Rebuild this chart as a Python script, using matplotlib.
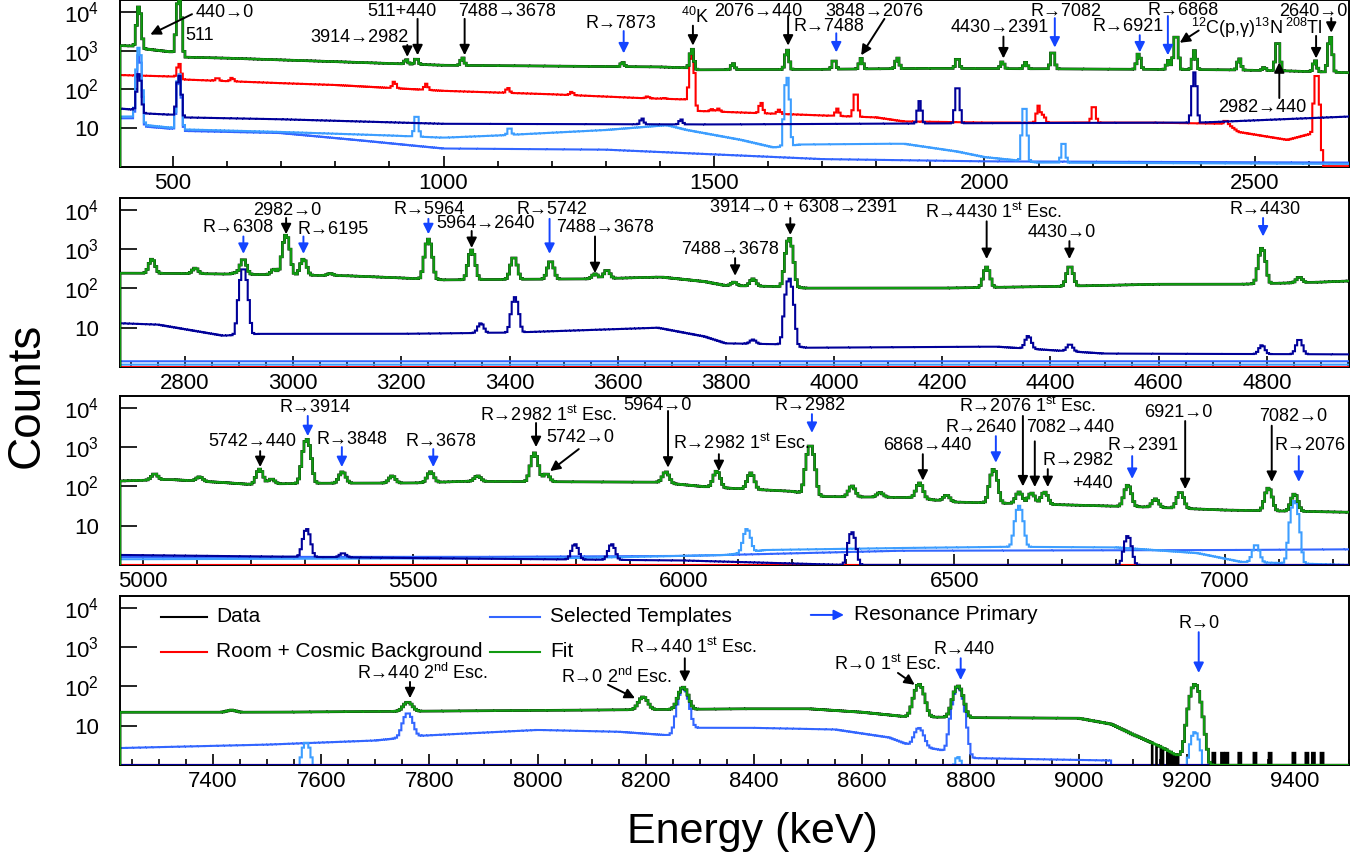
import numpy as np
import matplotlib
matplotlib.use("Agg")
import matplotlib.pyplot as plt
from matplotlib.ticker import FixedLocator, FixedFormatter, LogLocator, NullFormatter, MultipleLocator

plt.rcParams['font.family'] = ['Liberation Sans', 'DejaVu Sans']
plt.rcParams['mathtext.fontset'] = 'custom'
plt.rcParams['mathtext.rm'] = 'Liberation Sans'
plt.rcParams['mathtext.it'] = 'Liberation Sans:italic'
plt.rcParams['mathtext.bf'] = 'Liberation Sans:bold'

# ---------------- spectra: continuum knots (keV, counts) and peaks (keV, top counts) ----------------
# panel 1: 400 - 2670 keV
P1_FIT_CONT = [(402, 1350), (434, 1300), (450, 1100), (505, 900), (520, 680), (600, 640), (800, 520),
               (1000, 420), (1200, 400), (1400, 380), (1452, 360), (1470, 320), (1700, 330), (1900, 350),
               (2100, 340), (2300, 330), (2450, 320), (2560, 300), (2674, 270)]
P1_FIT_PEAKS = [(437, 14000), (511, 26000), (931, 590), (950, 640), (1035, 660), (1331, 500), (1459, 1130),
                (1535, 470), (1635, 1070), (1722, 590), (1772, 630), (1839, 660), (1950, 660), (2033, 520),
                (2076, 500), (2126, 1000), (2285, 840), (2340, 560), (2354, 2700), (2388, 1000), (2471, 630),
                (2517, 370), (2542, 1820), (2611, 560), (2639, 2300)]
P1_BKG_CONT = [(402, 235), (500, 215), (520, 180), (700, 145), (800, 130), (1000, 92), (1200, 75), (1363, 60),
               (1450, 55), (1466, 28), (1600, 24), (1800, 19), (1850, 15), (2000, 14), (2300, 14), (2450, 13),
               (2470, 8), (2560, 5), (2600, 7), (2618, 7), (2626, 1.05), (2674, 1.05)]
P1_BKG_PEAKS = [(511, 470), (582, 200), (609, 200), (909, 160), (968, 140), (1119, 110), (1237, 87), (1377, 66),
                (1408, 60), (1459, 980), (1496, 31), (1508, 32), (1587, 46), (1620, 30), (1728, 32), (1762, 87),
                (2100, 38), (2109, 22), (2202, 40), (2446, 16), (2614, 275)]
P1_NAVY_CONT = [(402, 32), (430, 30), (450, 24), (505, 22), (520, 19), (700, 17), (1000, 13), (1500, 12.5),
                (2000, 13.5), (2400, 14), (2674, 20)]
P1_NAVY_PEAKS = [(437, 260), (511, 235), (1367, 18), (1439, 17), (1880, 50), (1950, 130), (2388, 275)]
P1_LIGHT_CONT = [(402, 20), (430, 20), (450, 12), (505, 10), (520, 9.3), (700, 8), (900, 6.5), (1000, 5.7),
                 (1100, 6.5), (1300, 9), (1413, 12), (1450, 9), (1550, 5), (1610, 3.2), (1660, 3.8), (1850, 4),
                 (1950, 2.5), (2000, 1.8), (2100, 1.3), (2674, 1.2)]
P1_LIGHT_PEAKS = [(437, 1250), (511, 260), (950, 23), (1122, 10.5), (1635, 210), (2074, 39), (2146, 4.6)]
P1_MED_CONT = [(402, 18), (430, 18), (450, 11), (505, 9.5), (520, 8.5), (700, 7.5), (850, 4.8), (950, 3.5),
               (1000, 3.0), (1300, 2.8), (1700, 1.6), (2000, 1.4), (2674, 1.3)]
P1_MED_PEAKS = [(437, 800), (511, 220)]

# panel 2: 2680 - 4950 keV
P2_FIT_CONT = [(2680, 245), (2800, 240), (2900, 230), (3100, 210), (3200, 185), (3280, 165), (3400, 170),
               (3550, 175), (3680, 195), (3760, 150), (3800, 118), (3900, 112), (3950, 102), (4200, 102),
               (4400, 112), (4600, 128), (4750, 128), (4900, 145), (4952, 155)]
P2_FIT_PEAKS = [(2739, 560), (2819, 330), (2893, 250), (2908, 560), (2965, 310), (2987, 2300), (3019, 560),
                (3069, 240), (3250, 1800), (3330, 950), (3408, 630), (3476, 500), (3558, 235), (3580, 295),
                (3815, 145), (3850, 175), (3917, 1900), (4282, 350), (4436, 370), (4791, 1070), (4860, 195)]
P2_NAVY_CONT = [(2680, 13), (2750, 12), (2870, 6.3), (2940, 7), (3200, 7), (3400, 7.5), (3674, 10), (3760, 6),
                (3800, 4), (3900, 3.8), (3950, 3.1), (4300, 3.3), (4500, 2.2), (4952, 2.1)]
P2_NAVY_PEAKS = [(2908, 330), (3347, 13), (3410, 60), (3850, 5), (3917, 180), (4359, 6.2), (4436, 3.8),
                 (4791, 3.6), (4860, 5.1)]
P2_LIGHT_CONT = [(2680, 1.15), (4952, 1.15)]
P2_MED_CONT = [(2680, 1.4), (4952, 1.4)]

# panel 3: 4960 - 7230 keV
P3_FIT_CONT = [(4958, 137), (5050, 150), (5150, 125), (5200, 112), (5300, 120), (5500, 122), (5600, 135),
               (5700, 132), (5950, 128), (6050, 95), (6200, 75), (6260, 55), (6420, 52), (6500, 40), (6700, 34),
               (6850, 30), (7000, 25), (7230, 22)]
P3_FIT_PEAKS = [(5022, 210), (5105, 175), (5216, 275), (5238, 155), (5303, 1600), (5369, 235), (5461, 185),
                (5532, 235), (5619, 185), (5724, 710), (5746, 210), (5967, 235), (6061, 245), (6124, 220),
                (6234, 1130), (6311, 103), (6363, 70), (6436, 122), (6486, 60), (6573, 275), (6620, 72),
                (6643, 68), (6667, 72), (6821, 108), (6872, 48), (6918, 72), (7081, 91), (7129, 64)]
P3_NAVY_CONT = [(4958, 1.8), (5500, 1.5), (6000, 1.3), (6300, 1.0), (7230, 1.0)]
P3_NAVY_PEAKS = [(5303, 8.3), (5370, 2.0), (5799, 3.4), (5867, 3.4), (6311, 6.9), (6821, 5.5)]
P3_LIGHT_CONT = [(4958, 1.4), (5800, 1.5), (6080, 1.8), (6150, 2.4), (6400, 2.7), (6600, 2.9), (6800, 2.8),
                 (6950, 2.0), (7030, 1.2), (7230, 1.0)]
P3_LIGHT_PEAKS = [(6117, 8.3), (6620, 32), (7058, 3.3), (7129, 43)]
P3_MED_CONT = [(4958, 1.6), (5600, 1.6), (6000, 1.7), (6150, 1.9), (6400, 2.3), (7000, 2.4), (7230, 2.5)]

# panel 4: 7230 - 9500 keV
P4_FIT_CONT = [(7228, 22), (7500, 22), (7700, 23), (7900, 24), (8100, 25), (8400, 27), (8500, 27), (8600, 22),
               (8680, 17), (8800, 16), (9000, 15.5), (9060, 11), (9100, 6), (9150, 3), (9180, 1.8),
               (9238, 1.5), (9242, 1.0), (9500, 1.0)]
P4_FIT_PEAKS = [(7434, 25), (7760, 40), (8195, 54), (8269, 96), (8705, 114), (8777, 103), (9215, 114)]
P4_MED_CONT = [(7228, 2.7), (7500, 3.3), (7700, 4.2), (7790, 5.6), (8000, 7.8), (8150, 7), (8250, 5.6),
               (8290, 8.8), (8400, 8.8), (8550, 8), (8650, 5), (8690, 3.1), (8740, 2.5), (8800, 1.5),
               (9060, 1.3), (9070, 0.001), (9500, 0.001)]
P4_MED_PEAKS = [(7760, 21), (8269, 91), (8705, 8.8), (8777, 98)]
P4_LIGHT_CONT = [(7228, 0.001), (9500, 0.001)]
P4_LIGHT_PEAKS = [(7572, 3.8), (8777, 1.6), (9215, 6.9)]
P4_DATA_GAPS = [9137, 9144, 9155, 9165, 9174, 9183]
P4_DATA_TAIL_E = [9252, 9265, 9276, 9298, 9326, 9354, 9400, 9422, 9433, 9450]
P4_DATA_TAIL_C = [2, 2, 2, 2, 2, 2, 2, 2, 2, 2]

ENERGY_RANGES = [(402, 2674), (2680, 4952), (4958, 7230), (7228, 9500)]
PEAK_SIGMA = [3.0, 5.0, 5.5, 7.5]
X_MAJOR = [500, 200, 500, 200]
X_MINOR = [100, 50, 100, 50]
Y_TICKS = [10, 100, 1000, 10000]
Y_TICK_LABELS = ['10', '$10^{2}$', '$10^{3}$', '$10^{4}$']
BIN_WIDTH = 4.0

C_FIT = '#119a11'
C_BKG = '#ff0000'
C_NAVY = '#000099'
C_LIGHT = '#3d9eff'
C_MED = '#3366ff'
C_RES = '#1444ff'


def build(edges, cont, peaks, sigma):
    centres = 0.5 * (edges[:-1] + edges[1:])
    ke = np.array([p[0] for p in cont], float)
    kl = np.log10([p[1] for p in cont])
    counts = 10 ** np.interp(centres, ke, kl)
    for e, top in peaks:
        base = 10 ** np.interp(e, ke, kl)
        counts += max(top - base, 0) * np.exp(-0.5 * ((centres - e) / sigma) ** 2)
    return counts


# per panel: fit, background, navy, light, medium templates
panels = [
    dict(fit=(P1_FIT_CONT, P1_FIT_PEAKS), bkg=(P1_BKG_CONT, P1_BKG_PEAKS), navy=(P1_NAVY_CONT, P1_NAVY_PEAKS),
         light=(P1_LIGHT_CONT, P1_LIGHT_PEAKS), med=(P1_MED_CONT, P1_MED_PEAKS)),
    dict(fit=(P2_FIT_CONT, P2_FIT_PEAKS), bkg=None, navy=(P2_NAVY_CONT, P2_NAVY_PEAKS),
         light=(P2_LIGHT_CONT, []), med=(P2_MED_CONT, [])),
    dict(fit=(P3_FIT_CONT, P3_FIT_PEAKS), bkg=None, navy=(P3_NAVY_CONT, P3_NAVY_PEAKS),
         light=(P3_LIGHT_CONT, P3_LIGHT_PEAKS), med=(P3_MED_CONT, [])),
    dict(fit=(P4_FIT_CONT, P4_FIT_PEAKS), bkg=None, navy=None,
         light=(P4_LIGHT_CONT, P4_LIGHT_PEAKS), med=(P4_MED_CONT, P4_MED_PEAKS)),
]

# labels: (text, text_x, text_y, tail, tip, arrow colour)
K, B = 'black', C_RES
notes = [
    [('440→0', 596, 9500, (535, 8700), (458, 2600), K),
     ('511', 550, 2400, None, None, K),
     ('511+440', 924, 10000, (952, 6600), (952, 760), K),
     ('3914→2982', 845, 2140, (933, 1400), (933, 690), K),
     ('7488→3678', 1117, 10000, (1039, 6600), (1039, 760), K),
     ('R→7873', 1328, 5100, (1333, 3200), (1333, 850), B),
     ('$^{40}$K', 1465, 7600, (1461, 4400), (1461, 1350), K),
     ('2076→440', 1582, 10000, (1637, 7800), (1637, 1350), K),
     ('R→7488', 1713, 4100, (1726, 2800), (1726, 900), B),
     ('3848→2076', 1796, 10500, (1815, 6600), (1772, 760), K),
     ('4430→2391', 2028, 3900, (2035, 2300), (2035, 630), K),
     ('R→7082', 2150, 10000, (2130, 6900), (2130, 1200), B),
     ('R→6921', 2265, 4200, (2287, 2500), (2287, 900), B),
     ('R→6868', 2368, 11000, (2339, 7800), (2339, 760), B),
     ('$^{12}$C(p,γ)$^{13}$N', 2466, 3900, (2396, 3300), (2361, 1600), K),
     ('$^{208}$Tl', 2590, 3900, (2613, 2400), (2613, 630), K),
     ('2640→0', 2608, 10500, (2641, 6900), (2641, 2900), K),
     ('2982→440', 2513, 34, (2545, 60), (2545, 500), K)],
    [('R→6308', 2898, 3500, (2908, 2100), (2908, 760), B),
     ('2982→0', 2989, 9800, (2987, 6200), (2987, 2400), K),
     ('R→6195', 3074, 3200, (3019, 2100), (3019, 760), B),
     ('R→5964', 3252, 10500, (3250, 5900), (3250, 2400), B),
     ('5964→2640', 3356, 4400, (3330, 2900), (3330, 1070), K),
     ('R→5742', 3478, 10500, (3474, 5900), (3474, 760), B),
     ('7488→3678', 3576, 3500, (3558, 2100), (3558, 245), K),
     ('7488→3678', 3808, 1000, (3817, 590), (3817, 210), K),
     ('3914→0 + 6308→2391', 3943, 11200, (3919, 6200), (3919, 2300), K),
     (r'R→4430 1$^{\rm st}$ Esc.', 4295, 8700, (4282, 5100), (4282, 560), K),
     ('4430→0', 4420, 2600, (4435, 1600), (4435, 560), K),
     ('R→4430', 4797, 10500, (4793, 6200), (4793, 2100), B)],
    [('5742→440', 5202, 1400, (5217, 790), (5217, 310), K),
     ('R→3914', 5318, 10000, (5305, 6200), (5305, 1900), B),
     ('R→3848', 5387, 1600, (5368, 1000), (5368, 310), B),
     ('R→3678', 5551, 1350, (5537, 890), (5537, 310), B),
     (r'R→2982 1$^{\rm st}$ Esc.', 5749, 6600, (5727, 4100), (5727, 1000), K),
     ('5742→0', 5808, 1800, (5806, 890), (5753, 245), K),
     ('5964→0', 5951, 11200, (5971, 8300), (5971, 300), K),
     (r'R→2982 1$^{\rm st}$ Esc.', 6106, 1260, (6065, 660), (6065, 245), K),
     ('R→2982', 6233, 11200, (6237, 6900), (6237, 2300), B),
     ('6868→440', 6450, 1120, (6442, 660), (6442, 140), K),
     ('R→2640', 6550, 3200, (6577, 1900), (6577, 400), B),
     (r'R→2076 1$^{\rm st}$ Esc.', 6636, 11200, (6627, 6200), (6627, 100), K),
     ('7082→440', 6714, 3200, (6649, 1400), (6649, 96), K),
     ('R→2982', 6729, 450, (6673, 275), (6673, 96), K),
     ('+440', 6756, 120, None, None, K),
     ('R→2391', 6849, 1120, (6829, 590), (6829, 155), B),
     ('6921→0', 6915, 7400, (6927, 4600), (6927, 85), K),
     ('7082→0', 7126, 5900, (7087, 3500), (7087, 130), K),
     ('R→2076', 7158, 1070, (7137, 590), (7137, 130), B)],
    [(r'R→440 2$^{\rm nd}$ Esc.', 7788, 220, (7764, 130), (7764, 50), K),
     (r'R→0 2$^{\rm nd}$ Esc.', 8145, 175, (8130, 110), (8180, 50), K),
     (r'R→440 1$^{\rm st}$ Esc.', 8287, 1000, (8272, 520), (8272, 130), K),
     (r'R→0 1$^{\rm st}$ Esc.', 8646, 370, (8666, 220), (8697, 110), K),
     ('R→440', 8788, 850, (8782, 520), (8782, 145), B),
     ('R→0', 9222, 4100, (9222, 2400), (9222, 220), B)],
]

fig = plt.figure(figsize=(13.72, 8.64), dpi=100)
boxes = [(0.8067, 0.1931), (0.5752, 0.1956), (0.3461, 0.1956), (0.1146, 0.1956)]
axes = []

for i, p in enumerate(panels):
    ax = fig.add_axes([0.0875, boxes[i][0], 0.8958, boxes[i][1]])
    axes.append(ax)
    lo, hi = ENERGY_RANGES[i]
    edges = np.arange(lo, hi + BIN_WIDTH + 0.1, BIN_WIDTH)
    sig = PEAK_SIGMA[i]
    flat = np.ones(len(edges) - 1)

    fit = build(edges, *p['fit'], sig)
    data = fit.copy()
    if i == 3:
        centres = 0.5 * (edges[:-1] + edges[1:])
        data[centres > 9245] = 0
        for e in P4_DATA_GAPS:
            data[np.argmin(abs(centres - e))] = 0
        for e, c in zip(P4_DATA_TAIL_E, P4_DATA_TAIL_C):
            data[np.argmin(abs(centres - e))] = c

    bkg = build(edges, *p['bkg'], sig) if p['bkg'] else flat
    navy = build(edges, *p['navy'], sig) if p['navy'] else flat

    ax.stairs(bkg, edges, color=C_BKG, lw=1.5, baseline=None, zorder=3)
    ax.stairs(build(edges, *p['med'], sig), edges, color=C_MED, lw=1.5, baseline=None, zorder=3)
    ax.stairs(build(edges, *p['light'], sig), edges, color=C_LIGHT, lw=1.5, baseline=None, zorder=3)
    ax.stairs(navy, edges, color=C_NAVY, lw=1.5, baseline=None, zorder=3)
    ax.stairs(data, edges, color='black', lw=1.9, baseline=0, zorder=3)
    ax.stairs(fit, edges, color=C_FIT, lw=1.6, baseline=0, zorder=3.1)

    ax.set_yscale('log', nonpositive='clip')
    ax.set_xlim(lo, hi)
    ax.set_ylim(1, 2e4)
    ax.yaxis.set_major_locator(FixedLocator(Y_TICKS))
    ax.yaxis.set_major_formatter(FixedFormatter(Y_TICK_LABELS))
    ax.yaxis.set_minor_locator(LogLocator(base=10, subs=np.arange(2, 10)))
    ax.yaxis.set_minor_formatter(NullFormatter())
    ax.xaxis.set_major_locator(MultipleLocator(X_MAJOR[i]))
    ax.xaxis.set_minor_locator(MultipleLocator(X_MINOR[i]))
    ax.tick_params(axis='both', which='both', direction='in', top=False, right=False, labelsize=16)
    ax.tick_params(axis='x', which='major', length=8, width=1.2, pad=4)
    ax.tick_params(axis='x', which='minor', length=4, width=1.2)
    ax.tick_params(axis='y', which='major', length=12, width=1.2, pad=15)
    ax.tick_params(axis='y', which='minor', length=6, width=1.0)
    for s in ax.spines.values():
        s.set_linewidth(1.4)

    for text, tx, ty, tail, tip, col in notes[i]:
        ax.text(tx, ty, text, ha='center', va='center', fontsize=13, color='black', zorder=5)
        if tail is not None:
            ax.annotate('', xy=tip, xytext=tail,
                        arrowprops=dict(arrowstyle='-|>', color=col, lw=1.4, shrinkA=0, shrinkB=0,
                                        mutation_scale=15), zorder=5, annotation_clip=False)

# legend in the bottom panel
ax = axes[3]
tr = ax.transAxes
ax.plot([0.033, 0.071], [0.876, 0.876], transform=tr, color='black', lw=1.5)
ax.text(0.078, 0.876, 'Data', transform=tr, fontsize=15, va='center')
ax.plot([0.033, 0.071], [0.669, 0.669], transform=tr, color=C_BKG, lw=1.5)
ax.text(0.078, 0.669, 'Room + Cosmic Background', transform=tr, fontsize=15, va='center')
ax.plot([0.301, 0.342], [0.876, 0.876], transform=tr, color=C_MED, lw=1.5)
ax.text(0.350, 0.876, 'Selected Templates', transform=tr, fontsize=15, va='center')
ax.plot([0.301, 0.342], [0.669, 0.669], transform=tr, color=C_FIT, lw=1.5)
ax.text(0.350, 0.669, 'Fit', transform=tr, fontsize=15, va='center')
ax.annotate('', xy=(0.589, 0.888), xytext=(0.562, 0.888), xycoords='axes fraction',
            arrowprops=dict(arrowstyle='-|>', color=C_RES, lw=1.4, shrinkA=0, shrinkB=0, mutation_scale=15))
ax.text(0.597, 0.888, 'Resonance Primary', transform=tr, fontsize=15, va='center')

fig.text(27 / 1372, 1 - 395 / 864, 'Counts', rotation=90, fontsize=33, ha='center', va='center')
fig.text(752 / 1372, 1 - 832 / 864, 'Energy (keV)', fontsize=31, ha='center', va='center')

fig.savefig('out.png', dpi=100)
